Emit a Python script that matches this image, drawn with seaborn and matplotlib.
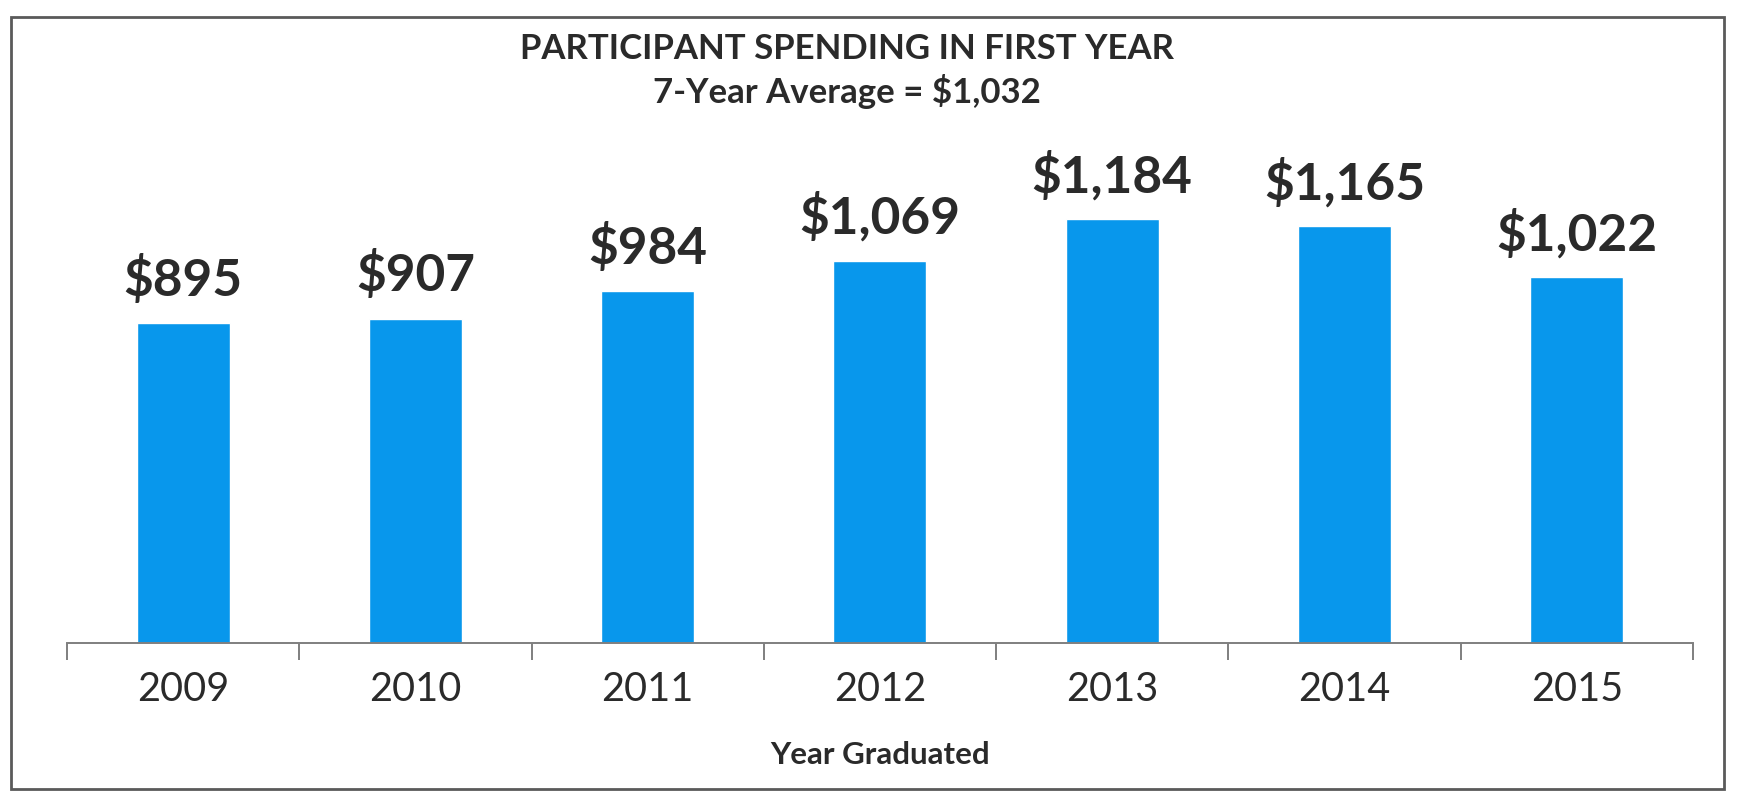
import matplotlib
matplotlib.use("Agg")
import matplotlib.pyplot as plt
import seaborn as sns
import pandas as pd
from matplotlib.patches import Rectangle
from matplotlib.ticker import FixedLocator

years = ["2009", "2010", "2011", "2012", "2013", "2014", "2015"]
spending = [895, 907, 984, 1069, 1184, 1165, 1022]
title = "PARTICIPANT SPENDING IN FIRST YEAR"
subtitle = "7-Year Average = $1,032"
x_label = "Year Graduated"

sns.set_theme(style="white")
plt.rcParams["font.family"] = ["Lato", "DejaVu Sans"]

df = pd.DataFrame({"year": years, "spending": spending})

fig = plt.figure(figsize=(17.39, 7.94), dpi=100)
ax = fig.add_axes([0.0385, 0.19, 0.935, 0.631])

sns.barplot(data=df, x="year", y="spending", color="#0897EC",
            saturation=1, width=0.40, ax=ax)

ax.set_ylim(0, 1400)
ax.set_xlim(-0.5, len(years) - 0.5)

# value labels above each bar
labels = [f"${v:,}" for v in spending]
ax.bar_label(ax.containers[0], labels=labels, padding=13,
             fontsize=37, fontweight="bold", color="#2a2a2a")

# only a bottom axis, with ticks at category boundaries
for side in ["top", "left", "right"]:
    ax.spines[side].set_visible(False)
ax.spines["bottom"].set_color("#7f7f7f")
ax.spines["bottom"].set_linewidth(1.4)
ax.set_yticks([])
ax.tick_params(axis="x", which="major", length=0, pad=20,
               labelsize=28.5, labelcolor="#2a2a2a")
ax.xaxis.set_minor_locator(FixedLocator([i - 0.5 for i in range(len(years) + 1)]))
ax.tick_params(axis="x", which="minor", length=12, width=1.4,
               color="#7f7f7f", direction="out", bottom=True)

ax.set_ylabel("")
ax.set_xlabel(x_label, fontsize=22.5, fontweight="bold", color="#2a2a2a",
              labelpad=24)

fig.text(0.487, 0.938, title, ha="center", va="center",
         fontsize=25, fontweight="bold", color="#2a2a2a")
fig.text(0.487, 0.885, subtitle, ha="center", va="center",
         fontsize=25, fontweight="bold", color="#2a2a2a")

# frame around the whole chart
fig.patches.append(Rectangle((0.0065, 0.006), 0.985, 0.972,
                             transform=fig.transFigure, fill=False,
                             edgecolor="#5a5a5a", linewidth=2))

fig.savefig("out.png", dpi=100, facecolor="white")
